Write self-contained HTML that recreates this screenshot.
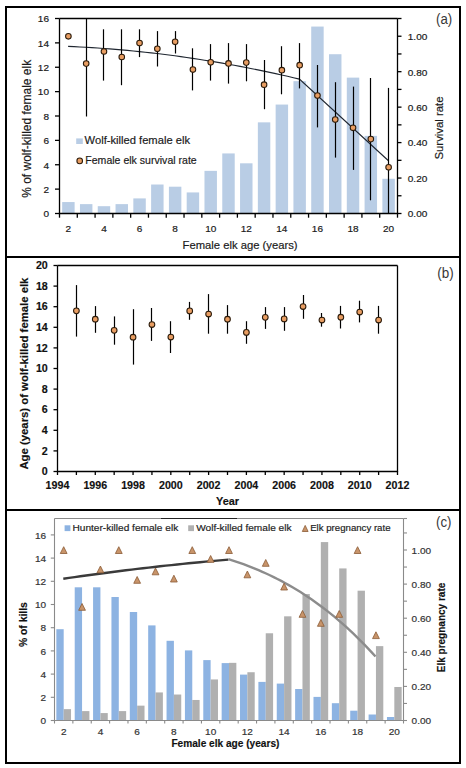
<!DOCTYPE html>
<html><head><meta charset="utf-8"><style>
html,body{margin:0;padding:0;background:#fff;}
body{width:466px;height:768px;overflow:hidden;}
svg{display:block;font-family:"Liberation Sans", sans-serif;}
</style></head><body>
<svg width="466" height="768" viewBox="0 0 466 768">
<rect width="466" height="768" fill="#fff"/>
<rect x="6" y="7" width="454" height="756" fill="none" stroke="#000" stroke-width="2"/>
<line x1="5.00" y1="257.00" x2="461.00" y2="257.00" stroke="#000" stroke-width="2"/>
<line x1="5.00" y1="510.00" x2="461.00" y2="510.00" stroke="#000" stroke-width="2"/>
<rect x="62.17" y="202.06" width="12.45" height="11.44" fill="#b9cde5"/>
<rect x="79.96" y="204.13" width="12.45" height="9.37" fill="#b9cde5"/>
<rect x="97.75" y="206.20" width="12.45" height="7.30" fill="#b9cde5"/>
<rect x="115.54" y="204.13" width="12.45" height="9.37" fill="#b9cde5"/>
<rect x="133.33" y="198.40" width="12.45" height="15.10" fill="#b9cde5"/>
<rect x="151.12" y="184.51" width="12.45" height="28.99" fill="#b9cde5"/>
<rect x="168.91" y="186.70" width="12.45" height="26.80" fill="#b9cde5"/>
<rect x="186.69" y="192.43" width="12.45" height="21.07" fill="#b9cde5"/>
<rect x="204.48" y="170.86" width="12.45" height="42.64" fill="#b9cde5"/>
<rect x="222.27" y="153.43" width="12.45" height="60.07" fill="#b9cde5"/>
<rect x="240.06" y="163.30" width="12.45" height="50.20" fill="#b9cde5"/>
<rect x="257.85" y="122.35" width="12.45" height="91.15" fill="#b9cde5"/>
<rect x="275.64" y="104.56" width="12.45" height="108.94" fill="#b9cde5"/>
<rect x="293.43" y="81.16" width="12.45" height="132.34" fill="#b9cde5"/>
<rect x="311.22" y="26.56" width="12.45" height="186.94" fill="#b9cde5"/>
<rect x="329.01" y="54.22" width="12.45" height="159.28" fill="#b9cde5"/>
<rect x="346.80" y="77.62" width="12.45" height="135.88" fill="#b9cde5"/>
<rect x="364.59" y="135.88" width="12.45" height="77.62" fill="#b9cde5"/>
<rect x="382.38" y="178.78" width="12.45" height="34.72" fill="#b9cde5"/>
<line x1="59.50" y1="18.50" x2="397.50" y2="18.50" stroke="#000" stroke-width="1.3"/>
<line x1="59.50" y1="18.50" x2="59.50" y2="213.50" stroke="#000" stroke-width="1.3"/>
<line x1="397.50" y1="18.50" x2="397.50" y2="213.50" stroke="#000" stroke-width="1.3"/>
<line x1="58.85" y1="213.50" x2="398.15" y2="213.50" stroke="#000" stroke-width="1.3"/>
<line x1="55.00" y1="213.50" x2="59.50" y2="213.50" stroke="#000" stroke-width="1.3"/>
<text transform="translate(49.00 217.30) scale(1.08 1)" font-size="9.3" text-anchor="end" font-weight="normal" fill="#1a1a1a" stroke="#1a1a1a" stroke-width="0.18">0</text>
<line x1="55.00" y1="189.12" x2="59.50" y2="189.12" stroke="#000" stroke-width="1.3"/>
<text transform="translate(49.00 192.93) scale(1.08 1)" font-size="9.3" text-anchor="end" font-weight="normal" fill="#1a1a1a" stroke="#1a1a1a" stroke-width="0.18">2</text>
<line x1="55.00" y1="164.75" x2="59.50" y2="164.75" stroke="#000" stroke-width="1.3"/>
<text transform="translate(49.00 168.55) scale(1.08 1)" font-size="9.3" text-anchor="end" font-weight="normal" fill="#1a1a1a" stroke="#1a1a1a" stroke-width="0.18">4</text>
<line x1="55.00" y1="140.38" x2="59.50" y2="140.38" stroke="#000" stroke-width="1.3"/>
<text transform="translate(49.00 144.18) scale(1.08 1)" font-size="9.3" text-anchor="end" font-weight="normal" fill="#1a1a1a" stroke="#1a1a1a" stroke-width="0.18">6</text>
<line x1="55.00" y1="116.00" x2="59.50" y2="116.00" stroke="#000" stroke-width="1.3"/>
<text transform="translate(49.00 119.80) scale(1.08 1)" font-size="9.3" text-anchor="end" font-weight="normal" fill="#1a1a1a" stroke="#1a1a1a" stroke-width="0.18">8</text>
<line x1="55.00" y1="91.62" x2="59.50" y2="91.62" stroke="#000" stroke-width="1.3"/>
<text transform="translate(49.00 95.42) scale(1.08 1)" font-size="9.3" text-anchor="end" font-weight="normal" fill="#1a1a1a" stroke="#1a1a1a" stroke-width="0.18">10</text>
<line x1="55.00" y1="67.25" x2="59.50" y2="67.25" stroke="#000" stroke-width="1.3"/>
<text transform="translate(49.00 71.05) scale(1.08 1)" font-size="9.3" text-anchor="end" font-weight="normal" fill="#1a1a1a" stroke="#1a1a1a" stroke-width="0.18">12</text>
<line x1="55.00" y1="42.88" x2="59.50" y2="42.88" stroke="#000" stroke-width="1.3"/>
<text transform="translate(49.00 46.67) scale(1.08 1)" font-size="9.3" text-anchor="end" font-weight="normal" fill="#1a1a1a" stroke="#1a1a1a" stroke-width="0.18">14</text>
<line x1="55.00" y1="18.50" x2="59.50" y2="18.50" stroke="#000" stroke-width="1.3"/>
<text transform="translate(49.00 22.30) scale(1.08 1)" font-size="9.3" text-anchor="end" font-weight="normal" fill="#1a1a1a" stroke="#1a1a1a" stroke-width="0.18">16</text>
<line x1="397.50" y1="213.50" x2="401.50" y2="213.50" stroke="#000" stroke-width="1.3"/>
<text transform="translate(407.80 217.40) scale(1.08 1)" font-size="9.3" text-anchor="start" font-weight="normal" fill="#1a1a1a" stroke="#1a1a1a" stroke-width="0.18">0.00</text>
<line x1="397.50" y1="195.77" x2="401.50" y2="195.77" stroke="#000" stroke-width="1.3"/>
<line x1="397.50" y1="178.05" x2="401.50" y2="178.05" stroke="#000" stroke-width="1.3"/>
<text transform="translate(407.80 181.95) scale(1.08 1)" font-size="9.3" text-anchor="start" font-weight="normal" fill="#1a1a1a" stroke="#1a1a1a" stroke-width="0.18">0.20</text>
<line x1="397.50" y1="160.32" x2="401.50" y2="160.32" stroke="#000" stroke-width="1.3"/>
<line x1="397.50" y1="142.59" x2="401.50" y2="142.59" stroke="#000" stroke-width="1.3"/>
<text transform="translate(407.80 146.49) scale(1.08 1)" font-size="9.3" text-anchor="start" font-weight="normal" fill="#1a1a1a" stroke="#1a1a1a" stroke-width="0.18">0.40</text>
<line x1="397.50" y1="124.86" x2="401.50" y2="124.86" stroke="#000" stroke-width="1.3"/>
<line x1="397.50" y1="107.14" x2="401.50" y2="107.14" stroke="#000" stroke-width="1.3"/>
<text transform="translate(407.80 111.04) scale(1.08 1)" font-size="9.3" text-anchor="start" font-weight="normal" fill="#1a1a1a" stroke="#1a1a1a" stroke-width="0.18">0.60</text>
<line x1="397.50" y1="89.41" x2="401.50" y2="89.41" stroke="#000" stroke-width="1.3"/>
<line x1="397.50" y1="71.68" x2="401.50" y2="71.68" stroke="#000" stroke-width="1.3"/>
<text transform="translate(407.80 75.58) scale(1.08 1)" font-size="9.3" text-anchor="start" font-weight="normal" fill="#1a1a1a" stroke="#1a1a1a" stroke-width="0.18">0.80</text>
<line x1="397.50" y1="53.95" x2="401.50" y2="53.95" stroke="#000" stroke-width="1.3"/>
<line x1="397.50" y1="36.23" x2="401.50" y2="36.23" stroke="#000" stroke-width="1.3"/>
<text transform="translate(407.80 40.13) scale(1.08 1)" font-size="9.3" text-anchor="start" font-weight="normal" fill="#1a1a1a" stroke="#1a1a1a" stroke-width="0.18">1.00</text>
<line x1="397.50" y1="18.50" x2="401.50" y2="18.50" stroke="#000" stroke-width="1.3"/>
<line x1="59.50" y1="213.50" x2="59.50" y2="217.70" stroke="#000" stroke-width="1.3"/>
<line x1="77.29" y1="213.50" x2="77.29" y2="217.70" stroke="#000" stroke-width="1.3"/>
<line x1="95.08" y1="213.50" x2="95.08" y2="217.70" stroke="#000" stroke-width="1.3"/>
<line x1="112.87" y1="213.50" x2="112.87" y2="217.70" stroke="#000" stroke-width="1.3"/>
<line x1="130.66" y1="213.50" x2="130.66" y2="217.70" stroke="#000" stroke-width="1.3"/>
<line x1="148.45" y1="213.50" x2="148.45" y2="217.70" stroke="#000" stroke-width="1.3"/>
<line x1="166.24" y1="213.50" x2="166.24" y2="217.70" stroke="#000" stroke-width="1.3"/>
<line x1="184.03" y1="213.50" x2="184.03" y2="217.70" stroke="#000" stroke-width="1.3"/>
<line x1="201.82" y1="213.50" x2="201.82" y2="217.70" stroke="#000" stroke-width="1.3"/>
<line x1="219.61" y1="213.50" x2="219.61" y2="217.70" stroke="#000" stroke-width="1.3"/>
<line x1="237.39" y1="213.50" x2="237.39" y2="217.70" stroke="#000" stroke-width="1.3"/>
<line x1="255.18" y1="213.50" x2="255.18" y2="217.70" stroke="#000" stroke-width="1.3"/>
<line x1="272.97" y1="213.50" x2="272.97" y2="217.70" stroke="#000" stroke-width="1.3"/>
<line x1="290.76" y1="213.50" x2="290.76" y2="217.70" stroke="#000" stroke-width="1.3"/>
<line x1="308.55" y1="213.50" x2="308.55" y2="217.70" stroke="#000" stroke-width="1.3"/>
<line x1="326.34" y1="213.50" x2="326.34" y2="217.70" stroke="#000" stroke-width="1.3"/>
<line x1="344.13" y1="213.50" x2="344.13" y2="217.70" stroke="#000" stroke-width="1.3"/>
<line x1="361.92" y1="213.50" x2="361.92" y2="217.70" stroke="#000" stroke-width="1.3"/>
<line x1="379.71" y1="213.50" x2="379.71" y2="217.70" stroke="#000" stroke-width="1.3"/>
<line x1="397.50" y1="213.50" x2="397.50" y2="217.70" stroke="#000" stroke-width="1.3"/>
<text transform="translate(68.39 231.80) scale(1.08 1)" font-size="9.3" text-anchor="middle" font-weight="normal" fill="#1a1a1a" stroke="#1a1a1a" stroke-width="0.18">2</text>
<text transform="translate(103.97 231.80) scale(1.08 1)" font-size="9.3" text-anchor="middle" font-weight="normal" fill="#1a1a1a" stroke="#1a1a1a" stroke-width="0.18">4</text>
<text transform="translate(139.55 231.80) scale(1.08 1)" font-size="9.3" text-anchor="middle" font-weight="normal" fill="#1a1a1a" stroke="#1a1a1a" stroke-width="0.18">6</text>
<text transform="translate(175.13 231.80) scale(1.08 1)" font-size="9.3" text-anchor="middle" font-weight="normal" fill="#1a1a1a" stroke="#1a1a1a" stroke-width="0.18">8</text>
<text transform="translate(210.71 231.80) scale(1.08 1)" font-size="9.3" text-anchor="middle" font-weight="normal" fill="#1a1a1a" stroke="#1a1a1a" stroke-width="0.18">10</text>
<text transform="translate(246.29 231.80) scale(1.08 1)" font-size="9.3" text-anchor="middle" font-weight="normal" fill="#1a1a1a" stroke="#1a1a1a" stroke-width="0.18">12</text>
<text transform="translate(281.87 231.80) scale(1.08 1)" font-size="9.3" text-anchor="middle" font-weight="normal" fill="#1a1a1a" stroke="#1a1a1a" stroke-width="0.18">14</text>
<text transform="translate(317.45 231.80) scale(1.08 1)" font-size="9.3" text-anchor="middle" font-weight="normal" fill="#1a1a1a" stroke="#1a1a1a" stroke-width="0.18">16</text>
<text transform="translate(353.03 231.80) scale(1.08 1)" font-size="9.3" text-anchor="middle" font-weight="normal" fill="#1a1a1a" stroke="#1a1a1a" stroke-width="0.18">18</text>
<text transform="translate(388.61 231.80) scale(1.08 1)" font-size="9.3" text-anchor="middle" font-weight="normal" fill="#1a1a1a" stroke="#1a1a1a" stroke-width="0.18">20</text>
<text transform="translate(182.60 249.00)" font-size="11.25" text-anchor="start" font-weight="normal" fill="#1a1a1a" textLength="115.00" lengthAdjust="spacingAndGlyphs" stroke="#1a1a1a" stroke-width="0.18">Female elk age (years)</text>
<text transform="translate(30.90 128.80) rotate(-90)" font-size="12" text-anchor="middle" font-weight="normal" fill="#1a1a1a" textLength="138.00" lengthAdjust="spacingAndGlyphs" stroke="#1a1a1a" stroke-width="0.18">% of wolf-killed female elk</text>
<text transform="translate(443.20 128.00) rotate(-90)" font-size="11.3" text-anchor="middle" font-weight="normal" fill="#1a1a1a" textLength="63.00" lengthAdjust="spacingAndGlyphs" stroke="#1a1a1a" stroke-width="0.18">Survival rate</text>
<text transform="translate(436.00 23.60)" font-size="14" text-anchor="start" font-weight="normal" fill="#383838" textLength="16.20" lengthAdjust="spacingAndGlyphs">(a)</text>
<polyline fill="none" stroke="#1f2630" stroke-width="1.1" points="68.10,46.37 74.03,46.64 79.96,46.94 85.89,47.27 91.82,47.63 97.75,48.02 103.68,48.44 109.62,48.89 115.55,49.37 121.48,49.88 127.41,50.42 133.34,50.99 139.27,51.59 145.20,52.22 151.13,52.88 157.06,53.57 162.99,54.29 168.92,55.04 174.85,55.82 180.78,56.63 186.72,57.47 192.65,58.34 198.58,59.24 204.51,60.17 210.44,61.13 216.37,62.11 222.30,63.13 228.23,64.18 234.16,65.26 240.09,66.37 246.02,67.51 251.95,68.68 257.88,69.88 263.82,71.10 269.75,72.36 275.68,73.65 281.61,74.97 287.54,76.32 293.47,77.70 299.40,79.10 388.20,160.50"/>
<line x1="86.50" y1="18.00" x2="86.50" y2="116.50" stroke="#000" stroke-width="1.2"/>
<line x1="103.50" y1="29.30" x2="103.50" y2="80.60" stroke="#000" stroke-width="1.2"/>
<line x1="121.50" y1="29.30" x2="121.50" y2="85.20" stroke="#000" stroke-width="1.2"/>
<line x1="139.50" y1="29.30" x2="139.50" y2="57.10" stroke="#000" stroke-width="1.2"/>
<line x1="157.50" y1="31.10" x2="157.50" y2="66.50" stroke="#000" stroke-width="1.2"/>
<line x1="175.50" y1="31.10" x2="175.50" y2="53.50" stroke="#000" stroke-width="1.2"/>
<line x1="192.50" y1="48.30" x2="192.50" y2="90.40" stroke="#000" stroke-width="1.2"/>
<line x1="210.50" y1="44.10" x2="210.50" y2="80.60" stroke="#000" stroke-width="1.2"/>
<line x1="228.50" y1="43.10" x2="228.50" y2="83.60" stroke="#000" stroke-width="1.2"/>
<line x1="246.50" y1="44.10" x2="246.50" y2="81.30" stroke="#000" stroke-width="1.2"/>
<line x1="264.50" y1="60.00" x2="264.50" y2="109.20" stroke="#000" stroke-width="1.2"/>
<line x1="281.50" y1="46.20" x2="281.50" y2="94.30" stroke="#000" stroke-width="1.2"/>
<line x1="299.50" y1="43.10" x2="299.50" y2="88.40" stroke="#000" stroke-width="1.2"/>
<line x1="317.50" y1="65.00" x2="317.50" y2="127.40" stroke="#000" stroke-width="1.2"/>
<line x1="335.50" y1="82.20" x2="335.50" y2="157.60" stroke="#000" stroke-width="1.2"/>
<line x1="353.50" y1="86.60" x2="353.50" y2="169.90" stroke="#000" stroke-width="1.2"/>
<line x1="370.50" y1="78.00" x2="370.50" y2="200.30" stroke="#000" stroke-width="1.2"/>
<line x1="388.50" y1="87.90" x2="388.50" y2="213.30" stroke="#000" stroke-width="1.2"/>
<circle cx="68.39" cy="36.30" r="2.8" fill="#e89d62" stroke="#2a1a0a" stroke-width="1.05"/>
<circle cx="86.18" cy="63.60" r="2.8" fill="#e89d62" stroke="#2a1a0a" stroke-width="1.05"/>
<circle cx="103.97" cy="51.50" r="2.8" fill="#e89d62" stroke="#2a1a0a" stroke-width="1.05"/>
<circle cx="121.76" cy="57.00" r="2.8" fill="#e89d62" stroke="#2a1a0a" stroke-width="1.05"/>
<circle cx="139.55" cy="43.10" r="2.8" fill="#e89d62" stroke="#2a1a0a" stroke-width="1.05"/>
<circle cx="157.34" cy="48.80" r="2.8" fill="#e89d62" stroke="#2a1a0a" stroke-width="1.05"/>
<circle cx="175.13" cy="41.80" r="2.8" fill="#e89d62" stroke="#2a1a0a" stroke-width="1.05"/>
<circle cx="192.92" cy="69.60" r="2.8" fill="#e89d62" stroke="#2a1a0a" stroke-width="1.05"/>
<circle cx="210.71" cy="62.30" r="2.8" fill="#e89d62" stroke="#2a1a0a" stroke-width="1.05"/>
<circle cx="228.50" cy="63.40" r="2.8" fill="#e89d62" stroke="#2a1a0a" stroke-width="1.05"/>
<circle cx="246.29" cy="62.60" r="2.8" fill="#e89d62" stroke="#2a1a0a" stroke-width="1.05"/>
<circle cx="264.08" cy="84.70" r="2.8" fill="#e89d62" stroke="#2a1a0a" stroke-width="1.05"/>
<circle cx="281.87" cy="70.20" r="2.8" fill="#e89d62" stroke="#2a1a0a" stroke-width="1.05"/>
<circle cx="299.66" cy="65.20" r="2.8" fill="#e89d62" stroke="#2a1a0a" stroke-width="1.05"/>
<circle cx="317.45" cy="95.60" r="2.8" fill="#e89d62" stroke="#2a1a0a" stroke-width="1.05"/>
<circle cx="335.24" cy="119.60" r="2.8" fill="#e89d62" stroke="#2a1a0a" stroke-width="1.05"/>
<circle cx="353.03" cy="127.80" r="2.8" fill="#e89d62" stroke="#2a1a0a" stroke-width="1.05"/>
<circle cx="370.82" cy="139.10" r="2.8" fill="#e89d62" stroke="#2a1a0a" stroke-width="1.05"/>
<circle cx="388.61" cy="167.30" r="2.8" fill="#e89d62" stroke="#2a1a0a" stroke-width="1.05"/>
<rect x="76.2" y="138.4" width="6.6" height="5.6" fill="#b9cde5"/>
<text transform="translate(84.60 143.90)" font-size="11.1" text-anchor="start" font-weight="normal" fill="#1a1a1a" textLength="105.40" lengthAdjust="spacingAndGlyphs" stroke="#1a1a1a" stroke-width="0.18">Wolf-killed female elk</text>
<circle cx="79.7" cy="160.9" r="2.8" fill="#e89d62" stroke="#2a1a0a" stroke-width="1.05"/>
<text transform="translate(85.30 163.80)" font-size="11.1" text-anchor="start" font-weight="normal" fill="#1a1a1a" textLength="111.40" lengthAdjust="spacingAndGlyphs" stroke="#1a1a1a" stroke-width="0.18">Female elk survival rate</text>
<line x1="57.50" y1="265.50" x2="397.50" y2="265.50" stroke="#000" stroke-width="1.3"/>
<line x1="397.50" y1="265.50" x2="397.50" y2="471.50" stroke="#000" stroke-width="1.3"/>
<line x1="57.50" y1="265.50" x2="57.50" y2="471.50" stroke="#000" stroke-width="1.3"/>
<line x1="56.90" y1="471.50" x2="398.10" y2="471.50" stroke="#000" stroke-width="1.3"/>
<line x1="53.50" y1="471.50" x2="57.50" y2="471.50" stroke="#000" stroke-width="1.3"/>
<text transform="translate(47.80 475.10) scale(1.07 1)" font-size="10" text-anchor="end" font-weight="bold" fill="#111" stroke="#111" stroke-width="0.15">0</text>
<line x1="53.50" y1="450.90" x2="57.50" y2="450.90" stroke="#000" stroke-width="1.3"/>
<text transform="translate(47.80 454.50) scale(1.07 1)" font-size="10" text-anchor="end" font-weight="bold" fill="#111" stroke="#111" stroke-width="0.15">2</text>
<line x1="53.50" y1="430.30" x2="57.50" y2="430.30" stroke="#000" stroke-width="1.3"/>
<text transform="translate(47.80 433.90) scale(1.07 1)" font-size="10" text-anchor="end" font-weight="bold" fill="#111" stroke="#111" stroke-width="0.15">4</text>
<line x1="53.50" y1="409.70" x2="57.50" y2="409.70" stroke="#000" stroke-width="1.3"/>
<text transform="translate(47.80 413.30) scale(1.07 1)" font-size="10" text-anchor="end" font-weight="bold" fill="#111" stroke="#111" stroke-width="0.15">6</text>
<line x1="53.50" y1="389.10" x2="57.50" y2="389.10" stroke="#000" stroke-width="1.3"/>
<text transform="translate(47.80 392.70) scale(1.07 1)" font-size="10" text-anchor="end" font-weight="bold" fill="#111" stroke="#111" stroke-width="0.15">8</text>
<line x1="53.50" y1="368.50" x2="57.50" y2="368.50" stroke="#000" stroke-width="1.3"/>
<text transform="translate(47.80 372.10) scale(1.07 1)" font-size="10" text-anchor="end" font-weight="bold" fill="#111" stroke="#111" stroke-width="0.15">10</text>
<line x1="53.50" y1="347.90" x2="57.50" y2="347.90" stroke="#000" stroke-width="1.3"/>
<text transform="translate(47.80 351.50) scale(1.07 1)" font-size="10" text-anchor="end" font-weight="bold" fill="#111" stroke="#111" stroke-width="0.15">12</text>
<line x1="53.50" y1="327.30" x2="57.50" y2="327.30" stroke="#000" stroke-width="1.3"/>
<text transform="translate(47.80 330.90) scale(1.07 1)" font-size="10" text-anchor="end" font-weight="bold" fill="#111" stroke="#111" stroke-width="0.15">14</text>
<line x1="53.50" y1="306.70" x2="57.50" y2="306.70" stroke="#000" stroke-width="1.3"/>
<text transform="translate(47.80 310.30) scale(1.07 1)" font-size="10" text-anchor="end" font-weight="bold" fill="#111" stroke="#111" stroke-width="0.15">16</text>
<line x1="53.50" y1="286.10" x2="57.50" y2="286.10" stroke="#000" stroke-width="1.3"/>
<text transform="translate(47.80 289.70) scale(1.07 1)" font-size="10" text-anchor="end" font-weight="bold" fill="#111" stroke="#111" stroke-width="0.15">18</text>
<line x1="53.50" y1="265.50" x2="57.50" y2="265.50" stroke="#000" stroke-width="1.3"/>
<text transform="translate(47.80 269.10) scale(1.07 1)" font-size="10" text-anchor="end" font-weight="bold" fill="#111" stroke="#111" stroke-width="0.15">20</text>
<line x1="57.50" y1="471.50" x2="57.50" y2="475.00" stroke="#000" stroke-width="1.3"/>
<text transform="translate(57.50 489.00) scale(1.07 1)" font-size="10" text-anchor="middle" font-weight="bold" fill="#111" stroke="#111" stroke-width="0.15">1994</text>
<line x1="76.39" y1="471.50" x2="76.39" y2="475.00" stroke="#000" stroke-width="1.3"/>
<line x1="95.28" y1="471.50" x2="95.28" y2="475.00" stroke="#000" stroke-width="1.3"/>
<text transform="translate(95.28 489.00) scale(1.07 1)" font-size="10" text-anchor="middle" font-weight="bold" fill="#111" stroke="#111" stroke-width="0.15">1996</text>
<line x1="114.17" y1="471.50" x2="114.17" y2="475.00" stroke="#000" stroke-width="1.3"/>
<line x1="133.06" y1="471.50" x2="133.06" y2="475.00" stroke="#000" stroke-width="1.3"/>
<text transform="translate(133.06 489.00) scale(1.07 1)" font-size="10" text-anchor="middle" font-weight="bold" fill="#111" stroke="#111" stroke-width="0.15">1998</text>
<line x1="151.94" y1="471.50" x2="151.94" y2="475.00" stroke="#000" stroke-width="1.3"/>
<line x1="170.83" y1="471.50" x2="170.83" y2="475.00" stroke="#000" stroke-width="1.3"/>
<text transform="translate(170.83 489.00) scale(1.07 1)" font-size="10" text-anchor="middle" font-weight="bold" fill="#111" stroke="#111" stroke-width="0.15">2000</text>
<line x1="189.72" y1="471.50" x2="189.72" y2="475.00" stroke="#000" stroke-width="1.3"/>
<line x1="208.61" y1="471.50" x2="208.61" y2="475.00" stroke="#000" stroke-width="1.3"/>
<text transform="translate(208.61 489.00) scale(1.07 1)" font-size="10" text-anchor="middle" font-weight="bold" fill="#111" stroke="#111" stroke-width="0.15">2002</text>
<line x1="227.50" y1="471.50" x2="227.50" y2="475.00" stroke="#000" stroke-width="1.3"/>
<line x1="246.39" y1="471.50" x2="246.39" y2="475.00" stroke="#000" stroke-width="1.3"/>
<text transform="translate(246.39 489.00) scale(1.07 1)" font-size="10" text-anchor="middle" font-weight="bold" fill="#111" stroke="#111" stroke-width="0.15">2004</text>
<line x1="265.28" y1="471.50" x2="265.28" y2="475.00" stroke="#000" stroke-width="1.3"/>
<line x1="284.17" y1="471.50" x2="284.17" y2="475.00" stroke="#000" stroke-width="1.3"/>
<text transform="translate(284.17 489.00) scale(1.07 1)" font-size="10" text-anchor="middle" font-weight="bold" fill="#111" stroke="#111" stroke-width="0.15">2006</text>
<line x1="303.06" y1="471.50" x2="303.06" y2="475.00" stroke="#000" stroke-width="1.3"/>
<line x1="321.94" y1="471.50" x2="321.94" y2="475.00" stroke="#000" stroke-width="1.3"/>
<text transform="translate(321.94 489.00) scale(1.07 1)" font-size="10" text-anchor="middle" font-weight="bold" fill="#111" stroke="#111" stroke-width="0.15">2008</text>
<line x1="340.83" y1="471.50" x2="340.83" y2="475.00" stroke="#000" stroke-width="1.3"/>
<line x1="359.72" y1="471.50" x2="359.72" y2="475.00" stroke="#000" stroke-width="1.3"/>
<text transform="translate(359.72 489.00) scale(1.07 1)" font-size="10" text-anchor="middle" font-weight="bold" fill="#111" stroke="#111" stroke-width="0.15">2010</text>
<line x1="378.61" y1="471.50" x2="378.61" y2="475.00" stroke="#000" stroke-width="1.3"/>
<line x1="397.50" y1="471.50" x2="397.50" y2="475.00" stroke="#000" stroke-width="1.3"/>
<text transform="translate(397.50 489.00) scale(1.07 1)" font-size="10" text-anchor="middle" font-weight="bold" fill="#111" stroke="#111" stroke-width="0.15">2012</text>
<text transform="translate(227.50 505.00)" font-size="10.9" text-anchor="middle" font-weight="bold" fill="#111" stroke="#111" stroke-width="0.15">Year</text>
<text transform="translate(27.60 373.60) rotate(-90)" font-size="11.1" text-anchor="middle" font-weight="bold" fill="#111" textLength="192.00" lengthAdjust="spacingAndGlyphs" stroke="#111" stroke-width="0.15">Age (years) of wolf-killed  female elk</text>
<text transform="translate(437.30 277.60)" font-size="14" text-anchor="start" font-weight="normal" fill="#383838" textLength="16.40" lengthAdjust="spacingAndGlyphs">(b)</text>
<line x1="76.50" y1="285.10" x2="76.50" y2="336.60" stroke="#000" stroke-width="1.2"/>
<line x1="95.50" y1="306.10" x2="95.50" y2="332.80" stroke="#000" stroke-width="1.2"/>
<line x1="114.50" y1="316.40" x2="114.50" y2="344.70" stroke="#000" stroke-width="1.2"/>
<line x1="133.50" y1="309.20" x2="133.50" y2="364.60" stroke="#000" stroke-width="1.2"/>
<line x1="151.50" y1="308.00" x2="151.50" y2="340.90" stroke="#000" stroke-width="1.2"/>
<line x1="170.50" y1="321.20" x2="170.50" y2="353.00" stroke="#000" stroke-width="1.2"/>
<line x1="189.50" y1="301.90" x2="189.50" y2="319.80" stroke="#000" stroke-width="1.2"/>
<line x1="208.50" y1="294.10" x2="208.50" y2="333.70" stroke="#000" stroke-width="1.2"/>
<line x1="227.50" y1="305.10" x2="227.50" y2="333.70" stroke="#000" stroke-width="1.2"/>
<line x1="246.50" y1="321.20" x2="246.50" y2="343.80" stroke="#000" stroke-width="1.2"/>
<line x1="265.50" y1="307.10" x2="265.50" y2="328.90" stroke="#000" stroke-width="1.2"/>
<line x1="284.50" y1="307.10" x2="284.50" y2="330.80" stroke="#000" stroke-width="1.2"/>
<line x1="303.50" y1="295.00" x2="303.50" y2="318.80" stroke="#000" stroke-width="1.2"/>
<line x1="321.50" y1="313.00" x2="321.50" y2="326.70" stroke="#000" stroke-width="1.2"/>
<line x1="340.50" y1="305.90" x2="340.50" y2="328.50" stroke="#000" stroke-width="1.2"/>
<line x1="359.50" y1="300.70" x2="359.50" y2="322.40" stroke="#000" stroke-width="1.2"/>
<line x1="378.50" y1="305.90" x2="378.50" y2="333.70" stroke="#000" stroke-width="1.2"/>
<circle cx="76.39" cy="310.80" r="2.85" fill="#e89d62" stroke="#2a1a0a" stroke-width="1.05"/>
<circle cx="95.28" cy="319.20" r="2.85" fill="#e89d62" stroke="#2a1a0a" stroke-width="1.05"/>
<circle cx="114.17" cy="330.30" r="2.85" fill="#e89d62" stroke="#2a1a0a" stroke-width="1.05"/>
<circle cx="133.06" cy="337.20" r="2.85" fill="#e89d62" stroke="#2a1a0a" stroke-width="1.05"/>
<circle cx="151.94" cy="324.50" r="2.85" fill="#e89d62" stroke="#2a1a0a" stroke-width="1.05"/>
<circle cx="170.83" cy="337.00" r="2.85" fill="#e89d62" stroke="#2a1a0a" stroke-width="1.05"/>
<circle cx="189.72" cy="310.90" r="2.85" fill="#e89d62" stroke="#2a1a0a" stroke-width="1.05"/>
<circle cx="208.61" cy="314.00" r="2.85" fill="#e89d62" stroke="#2a1a0a" stroke-width="1.05"/>
<circle cx="227.50" cy="319.20" r="2.85" fill="#e89d62" stroke="#2a1a0a" stroke-width="1.05"/>
<circle cx="246.39" cy="332.40" r="2.85" fill="#e89d62" stroke="#2a1a0a" stroke-width="1.05"/>
<circle cx="265.28" cy="317.30" r="2.85" fill="#e89d62" stroke="#2a1a0a" stroke-width="1.05"/>
<circle cx="284.17" cy="318.90" r="2.85" fill="#e89d62" stroke="#2a1a0a" stroke-width="1.05"/>
<circle cx="303.06" cy="306.50" r="2.85" fill="#e89d62" stroke="#2a1a0a" stroke-width="1.05"/>
<circle cx="321.94" cy="320.00" r="2.85" fill="#e89d62" stroke="#2a1a0a" stroke-width="1.05"/>
<circle cx="340.83" cy="317.20" r="2.85" fill="#e89d62" stroke="#2a1a0a" stroke-width="1.05"/>
<circle cx="359.72" cy="312.00" r="2.85" fill="#e89d62" stroke="#2a1a0a" stroke-width="1.05"/>
<circle cx="378.61" cy="320.00" r="2.85" fill="#e89d62" stroke="#2a1a0a" stroke-width="1.05"/>
<rect x="56.34" y="629.20" width="7.35" height="91.30" fill="#8db3e2"/>
<rect x="63.68" y="709.13" width="7.35" height="11.37" fill="#b0b0b0"/>
<rect x="74.71" y="587.30" width="7.35" height="133.20" fill="#8db3e2"/>
<rect x="82.05" y="711.10" width="7.35" height="9.40" fill="#b0b0b0"/>
<rect x="93.07" y="587.30" width="7.35" height="133.20" fill="#8db3e2"/>
<rect x="100.42" y="713.08" width="7.35" height="7.42" fill="#b0b0b0"/>
<rect x="111.44" y="597.00" width="7.35" height="123.50" fill="#8db3e2"/>
<rect x="118.79" y="711.10" width="7.35" height="9.40" fill="#b0b0b0"/>
<rect x="129.81" y="612.00" width="7.35" height="108.50" fill="#8db3e2"/>
<rect x="137.16" y="705.65" width="7.35" height="14.85" fill="#b0b0b0"/>
<rect x="148.18" y="625.40" width="7.35" height="95.10" fill="#8db3e2"/>
<rect x="155.53" y="692.43" width="7.35" height="28.07" fill="#b0b0b0"/>
<rect x="166.55" y="640.80" width="7.35" height="79.70" fill="#8db3e2"/>
<rect x="173.89" y="694.52" width="7.35" height="25.98" fill="#b0b0b0"/>
<rect x="184.92" y="650.40" width="7.35" height="70.10" fill="#8db3e2"/>
<rect x="192.26" y="699.97" width="7.35" height="20.53" fill="#b0b0b0"/>
<rect x="203.28" y="660.10" width="7.35" height="60.40" fill="#8db3e2"/>
<rect x="210.63" y="679.44" width="7.35" height="41.06" fill="#b0b0b0"/>
<rect x="221.65" y="663.10" width="7.35" height="57.40" fill="#8db3e2"/>
<rect x="229.00" y="662.85" width="7.35" height="57.65" fill="#b0b0b0"/>
<rect x="240.02" y="674.60" width="7.35" height="45.90" fill="#8db3e2"/>
<rect x="247.37" y="672.24" width="7.35" height="48.26" fill="#b0b0b0"/>
<rect x="258.39" y="681.90" width="7.35" height="38.60" fill="#8db3e2"/>
<rect x="265.74" y="633.27" width="7.35" height="87.23" fill="#b0b0b0"/>
<rect x="276.76" y="683.60" width="7.35" height="36.90" fill="#8db3e2"/>
<rect x="284.11" y="616.33" width="7.35" height="104.17" fill="#b0b0b0"/>
<rect x="295.13" y="689.00" width="7.35" height="31.50" fill="#8db3e2"/>
<rect x="302.47" y="594.06" width="7.35" height="126.44" fill="#b0b0b0"/>
<rect x="313.49" y="696.90" width="7.35" height="23.60" fill="#8db3e2"/>
<rect x="320.84" y="542.09" width="7.35" height="178.41" fill="#b0b0b0"/>
<rect x="331.86" y="703.20" width="7.35" height="17.30" fill="#8db3e2"/>
<rect x="339.21" y="568.42" width="7.35" height="152.08" fill="#b0b0b0"/>
<rect x="350.23" y="710.70" width="7.35" height="9.80" fill="#8db3e2"/>
<rect x="357.58" y="590.70" width="7.35" height="129.80" fill="#b0b0b0"/>
<rect x="368.60" y="714.50" width="7.35" height="6.00" fill="#8db3e2"/>
<rect x="375.95" y="646.14" width="7.35" height="74.36" fill="#b0b0b0"/>
<rect x="386.97" y="717.00" width="7.35" height="3.50" fill="#8db3e2"/>
<rect x="394.32" y="686.98" width="7.35" height="33.52" fill="#b0b0b0"/>
<line x1="54.50" y1="518.50" x2="403.50" y2="518.50" stroke="#8a8a8a" stroke-width="1.1"/>
<line x1="161.00" y1="518.50" x2="237.00" y2="518.50" stroke="#222" stroke-width="1.2"/>
<line x1="54.50" y1="518.50" x2="54.50" y2="720.50" stroke="#8a8a8a" stroke-width="1.1"/>
<line x1="403.50" y1="518.50" x2="403.50" y2="720.50" stroke="#8a8a8a" stroke-width="1.1"/>
<line x1="53.90" y1="720.50" x2="404.10" y2="720.50" stroke="#8a8a8a" stroke-width="1.1"/>
<line x1="50.80" y1="720.50" x2="54.50" y2="720.50" stroke="#8a8a8a" stroke-width="1.1"/>
<text transform="translate(46.10 724.20) scale(1.08 1)" font-size="9.3" text-anchor="end" font-weight="normal" fill="#333" stroke="#333" stroke-width="0.18">0</text>
<line x1="50.80" y1="697.30" x2="54.50" y2="697.30" stroke="#8a8a8a" stroke-width="1.1"/>
<text transform="translate(46.10 701.00) scale(1.08 1)" font-size="9.3" text-anchor="end" font-weight="normal" fill="#333" stroke="#333" stroke-width="0.18">2</text>
<line x1="50.80" y1="674.10" x2="54.50" y2="674.10" stroke="#8a8a8a" stroke-width="1.1"/>
<text transform="translate(46.10 677.80) scale(1.08 1)" font-size="9.3" text-anchor="end" font-weight="normal" fill="#333" stroke="#333" stroke-width="0.18">4</text>
<line x1="50.80" y1="650.90" x2="54.50" y2="650.90" stroke="#8a8a8a" stroke-width="1.1"/>
<text transform="translate(46.10 654.60) scale(1.08 1)" font-size="9.3" text-anchor="end" font-weight="normal" fill="#333" stroke="#333" stroke-width="0.18">6</text>
<line x1="50.80" y1="627.70" x2="54.50" y2="627.70" stroke="#8a8a8a" stroke-width="1.1"/>
<text transform="translate(46.10 631.40) scale(1.08 1)" font-size="9.3" text-anchor="end" font-weight="normal" fill="#333" stroke="#333" stroke-width="0.18">8</text>
<line x1="50.80" y1="604.50" x2="54.50" y2="604.50" stroke="#8a8a8a" stroke-width="1.1"/>
<text transform="translate(46.10 608.20) scale(1.08 1)" font-size="9.3" text-anchor="end" font-weight="normal" fill="#333" stroke="#333" stroke-width="0.18">10</text>
<line x1="50.80" y1="581.30" x2="54.50" y2="581.30" stroke="#8a8a8a" stroke-width="1.1"/>
<text transform="translate(46.10 585.00) scale(1.08 1)" font-size="9.3" text-anchor="end" font-weight="normal" fill="#333" stroke="#333" stroke-width="0.18">12</text>
<line x1="50.80" y1="558.10" x2="54.50" y2="558.10" stroke="#8a8a8a" stroke-width="1.1"/>
<text transform="translate(46.10 561.80) scale(1.08 1)" font-size="9.3" text-anchor="end" font-weight="normal" fill="#333" stroke="#333" stroke-width="0.18">14</text>
<line x1="50.80" y1="534.90" x2="54.50" y2="534.90" stroke="#8a8a8a" stroke-width="1.1"/>
<text transform="translate(46.10 538.60) scale(1.08 1)" font-size="9.3" text-anchor="end" font-weight="normal" fill="#333" stroke="#333" stroke-width="0.18">16</text>
<line x1="403.50" y1="720.50" x2="407.00" y2="720.50" stroke="#8a8a8a" stroke-width="1.1"/>
<text transform="translate(411.60 724.20) scale(1.08 1)" font-size="9.3" text-anchor="start" font-weight="normal" fill="#333" stroke="#333" stroke-width="0.18">0.00</text>
<line x1="403.50" y1="703.45" x2="407.00" y2="703.45" stroke="#8a8a8a" stroke-width="1.1"/>
<line x1="403.50" y1="686.40" x2="407.00" y2="686.40" stroke="#8a8a8a" stroke-width="1.1"/>
<text transform="translate(411.60 690.10) scale(1.08 1)" font-size="9.3" text-anchor="start" font-weight="normal" fill="#333" stroke="#333" stroke-width="0.18">0.20</text>
<line x1="403.50" y1="669.35" x2="407.00" y2="669.35" stroke="#8a8a8a" stroke-width="1.1"/>
<line x1="403.50" y1="652.30" x2="407.00" y2="652.30" stroke="#8a8a8a" stroke-width="1.1"/>
<text transform="translate(411.60 656.00) scale(1.08 1)" font-size="9.3" text-anchor="start" font-weight="normal" fill="#333" stroke="#333" stroke-width="0.18">0.40</text>
<line x1="403.50" y1="635.25" x2="407.00" y2="635.25" stroke="#8a8a8a" stroke-width="1.1"/>
<line x1="403.50" y1="618.20" x2="407.00" y2="618.20" stroke="#8a8a8a" stroke-width="1.1"/>
<text transform="translate(411.60 621.90) scale(1.08 1)" font-size="9.3" text-anchor="start" font-weight="normal" fill="#333" stroke="#333" stroke-width="0.18">0.60</text>
<line x1="403.50" y1="601.15" x2="407.00" y2="601.15" stroke="#8a8a8a" stroke-width="1.1"/>
<line x1="403.50" y1="584.10" x2="407.00" y2="584.10" stroke="#8a8a8a" stroke-width="1.1"/>
<text transform="translate(411.60 587.80) scale(1.08 1)" font-size="9.3" text-anchor="start" font-weight="normal" fill="#333" stroke="#333" stroke-width="0.18">0.80</text>
<line x1="403.50" y1="567.05" x2="407.00" y2="567.05" stroke="#8a8a8a" stroke-width="1.1"/>
<line x1="403.50" y1="550.00" x2="407.00" y2="550.00" stroke="#8a8a8a" stroke-width="1.1"/>
<text transform="translate(411.60 553.70) scale(1.08 1)" font-size="9.3" text-anchor="start" font-weight="normal" fill="#333" stroke="#333" stroke-width="0.18">1.00</text>
<line x1="403.50" y1="532.95" x2="407.00" y2="532.95" stroke="#8a8a8a" stroke-width="1.1"/>
<line x1="403.50" y1="518.50" x2="407.00" y2="518.50" stroke="#8a8a8a" stroke-width="1.1"/>
<line x1="54.50" y1="720.50" x2="54.50" y2="723.50" stroke="#8a8a8a" stroke-width="1.1"/>
<line x1="72.87" y1="720.50" x2="72.87" y2="723.50" stroke="#8a8a8a" stroke-width="1.1"/>
<line x1="91.24" y1="720.50" x2="91.24" y2="723.50" stroke="#8a8a8a" stroke-width="1.1"/>
<line x1="109.61" y1="720.50" x2="109.61" y2="723.50" stroke="#8a8a8a" stroke-width="1.1"/>
<line x1="127.97" y1="720.50" x2="127.97" y2="723.50" stroke="#8a8a8a" stroke-width="1.1"/>
<line x1="146.34" y1="720.50" x2="146.34" y2="723.50" stroke="#8a8a8a" stroke-width="1.1"/>
<line x1="164.71" y1="720.50" x2="164.71" y2="723.50" stroke="#8a8a8a" stroke-width="1.1"/>
<line x1="183.08" y1="720.50" x2="183.08" y2="723.50" stroke="#8a8a8a" stroke-width="1.1"/>
<line x1="201.45" y1="720.50" x2="201.45" y2="723.50" stroke="#8a8a8a" stroke-width="1.1"/>
<line x1="219.82" y1="720.50" x2="219.82" y2="723.50" stroke="#8a8a8a" stroke-width="1.1"/>
<line x1="238.18" y1="720.50" x2="238.18" y2="723.50" stroke="#8a8a8a" stroke-width="1.1"/>
<line x1="256.55" y1="720.50" x2="256.55" y2="723.50" stroke="#8a8a8a" stroke-width="1.1"/>
<line x1="274.92" y1="720.50" x2="274.92" y2="723.50" stroke="#8a8a8a" stroke-width="1.1"/>
<line x1="293.29" y1="720.50" x2="293.29" y2="723.50" stroke="#8a8a8a" stroke-width="1.1"/>
<line x1="311.66" y1="720.50" x2="311.66" y2="723.50" stroke="#8a8a8a" stroke-width="1.1"/>
<line x1="330.03" y1="720.50" x2="330.03" y2="723.50" stroke="#8a8a8a" stroke-width="1.1"/>
<line x1="348.39" y1="720.50" x2="348.39" y2="723.50" stroke="#8a8a8a" stroke-width="1.1"/>
<line x1="366.76" y1="720.50" x2="366.76" y2="723.50" stroke="#8a8a8a" stroke-width="1.1"/>
<line x1="385.13" y1="720.50" x2="385.13" y2="723.50" stroke="#8a8a8a" stroke-width="1.1"/>
<line x1="403.50" y1="720.50" x2="403.50" y2="723.50" stroke="#8a8a8a" stroke-width="1.1"/>
<text transform="translate(63.68 735.20) scale(1.08 1)" font-size="9.3" text-anchor="middle" font-weight="normal" fill="#333" stroke="#333" stroke-width="0.18">2</text>
<text transform="translate(100.42 735.20) scale(1.08 1)" font-size="9.3" text-anchor="middle" font-weight="normal" fill="#333" stroke="#333" stroke-width="0.18">4</text>
<text transform="translate(137.16 735.20) scale(1.08 1)" font-size="9.3" text-anchor="middle" font-weight="normal" fill="#333" stroke="#333" stroke-width="0.18">6</text>
<text transform="translate(173.89 735.20) scale(1.08 1)" font-size="9.3" text-anchor="middle" font-weight="normal" fill="#333" stroke="#333" stroke-width="0.18">8</text>
<text transform="translate(210.63 735.20) scale(1.08 1)" font-size="9.3" text-anchor="middle" font-weight="normal" fill="#333" stroke="#333" stroke-width="0.18">10</text>
<text transform="translate(247.37 735.20) scale(1.08 1)" font-size="9.3" text-anchor="middle" font-weight="normal" fill="#333" stroke="#333" stroke-width="0.18">12</text>
<text transform="translate(284.11 735.20) scale(1.08 1)" font-size="9.3" text-anchor="middle" font-weight="normal" fill="#333" stroke="#333" stroke-width="0.18">14</text>
<text transform="translate(320.84 735.20) scale(1.08 1)" font-size="9.3" text-anchor="middle" font-weight="normal" fill="#333" stroke="#333" stroke-width="0.18">16</text>
<text transform="translate(357.58 735.20) scale(1.08 1)" font-size="9.3" text-anchor="middle" font-weight="normal" fill="#333" stroke="#333" stroke-width="0.18">18</text>
<text transform="translate(394.32 735.20) scale(1.08 1)" font-size="9.3" text-anchor="middle" font-weight="normal" fill="#333" stroke="#333" stroke-width="0.18">20</text>
<text transform="translate(171.40 746.80)" font-size="10.1" text-anchor="start" font-weight="bold" fill="#111" textLength="108.00" lengthAdjust="spacingAndGlyphs" stroke="#111" stroke-width="0.15">Female elk age (years)</text>
<text transform="translate(27.30 624.60) rotate(-90)" font-size="10.4" text-anchor="middle" font-weight="bold" fill="#111" textLength="45.00" lengthAdjust="spacingAndGlyphs" stroke="#111" stroke-width="0.15">% of kills</text>
<text transform="translate(444.50 627.50) rotate(-90)" font-size="10" text-anchor="middle" font-weight="bold" fill="#111" textLength="89.60" lengthAdjust="spacingAndGlyphs" stroke="#111" stroke-width="0.15">Elk pregnancy rate</text>
<text transform="translate(436.00 527.00)" font-size="14" text-anchor="start" font-weight="normal" fill="#383838" textLength="15.40" lengthAdjust="spacingAndGlyphs">(c)</text>
<polyline fill="none" stroke="#3a3a3a" stroke-width="2.4" points="63.30,578.70 68.99,577.88 74.69,577.07 80.38,576.27 86.07,575.48 91.77,574.70 97.46,573.94 103.15,573.19 108.84,572.45 114.54,571.72 120.23,571.00 125.92,570.29 131.62,569.60 137.31,568.92 143.00,568.25 148.70,567.59 154.39,566.94 160.08,566.31 165.78,565.68 171.47,565.07 177.16,564.47 182.86,563.88 188.55,563.31 194.24,562.74 199.93,562.19 205.63,561.65 211.32,561.12 217.01,560.60 222.71,560.09 228.40,559.60"/>
<polyline fill="none" stroke="#8c8c8c" stroke-width="2.4" points="228.40,559.20 232.17,560.38 235.94,561.61 239.72,562.90 243.49,564.24 247.26,565.63 251.03,567.09 254.80,568.60 258.57,570.17 262.35,571.80 266.12,573.50 269.89,575.26 273.66,577.08 277.43,578.98 281.21,580.94 284.98,582.97 288.75,585.08 292.52,587.25 296.29,589.50 300.06,591.83 303.84,594.24 307.61,596.72 311.38,599.28 315.15,601.93 318.92,604.66 322.69,607.47 326.47,610.37 330.24,613.35 334.01,616.43 337.78,619.60 341.55,622.85 345.33,626.20 349.10,629.65 352.87,633.19 356.64,636.83 360.41,640.57 364.18,644.40 367.96,648.34 371.73,652.39 375.50,656.54"/>
<polygon points="60.28,553.50 67.08,553.50 63.68,546.70" fill="#c8946a" stroke="#8a5a35" stroke-width="0.8"/>
<polygon points="78.65,610.30 85.45,610.30 82.05,603.50" fill="#c8946a" stroke="#8a5a35" stroke-width="0.8"/>
<polygon points="97.02,572.80 103.82,572.80 100.42,566.00" fill="#c8946a" stroke="#8a5a35" stroke-width="0.8"/>
<polygon points="115.39,553.50 122.19,553.50 118.79,546.70" fill="#c8946a" stroke="#8a5a35" stroke-width="0.8"/>
<polygon points="133.76,583.30 140.56,583.30 137.16,576.50" fill="#c8946a" stroke="#8a5a35" stroke-width="0.8"/>
<polygon points="152.13,574.80 158.93,574.80 155.53,568.00" fill="#c8946a" stroke="#8a5a35" stroke-width="0.8"/>
<polygon points="170.49,582.00 177.29,582.00 173.89,575.20" fill="#c8946a" stroke="#8a5a35" stroke-width="0.8"/>
<polygon points="188.86,553.50 195.66,553.50 192.26,546.70" fill="#c8946a" stroke="#8a5a35" stroke-width="0.8"/>
<polygon points="207.23,562.30 214.03,562.30 210.63,555.50" fill="#c8946a" stroke="#8a5a35" stroke-width="0.8"/>
<polygon points="225.60,553.50 232.40,553.50 229.00,546.70" fill="#c8946a" stroke="#8a5a35" stroke-width="0.8"/>
<polygon points="243.97,577.80 250.77,577.80 247.37,571.00" fill="#c8946a" stroke="#8a5a35" stroke-width="0.8"/>
<polygon points="262.34,566.30 269.14,566.30 265.74,559.50" fill="#c8946a" stroke="#8a5a35" stroke-width="0.8"/>
<polygon points="280.71,590.00 287.51,590.00 284.11,583.20" fill="#c8946a" stroke="#8a5a35" stroke-width="0.8"/>
<polygon points="299.07,617.30 305.87,617.30 302.47,610.50" fill="#c8946a" stroke="#8a5a35" stroke-width="0.8"/>
<polygon points="317.44,626.30 324.24,626.30 320.84,619.50" fill="#c8946a" stroke="#8a5a35" stroke-width="0.8"/>
<polygon points="335.81,617.30 342.61,617.30 339.21,610.50" fill="#c8946a" stroke="#8a5a35" stroke-width="0.8"/>
<polygon points="354.18,553.50 360.98,553.50 357.58,546.70" fill="#c8946a" stroke="#8a5a35" stroke-width="0.8"/>
<polygon points="372.55,638.60 379.35,638.60 375.95,631.80" fill="#c8946a" stroke="#8a5a35" stroke-width="0.8"/>
<rect x="64.6" y="525.3" width="5.8" height="5.8" fill="#8db3e2"/>
<text transform="translate(72.50 531.00)" font-size="9.5" text-anchor="start" font-weight="normal" fill="#222" textLength="105.70" lengthAdjust="spacingAndGlyphs" stroke="#222" stroke-width="0.18">Hunter-killed female elk</text>
<rect x="188.2" y="525.3" width="5.8" height="5.8" fill="#b0b0b0"/>
<text transform="translate(196.20 531.00)" font-size="9.5" text-anchor="start" font-weight="normal" fill="#222" textLength="95.30" lengthAdjust="spacingAndGlyphs" stroke="#222" stroke-width="0.18">Wolf-killed female elk</text>
<polygon points="302.30,531.50 308.10,531.50 305.20,525.40" fill="#c8946a" stroke="#8a5a35" stroke-width="0.8"/>
<text transform="translate(310.20 531.00)" font-size="9.5" text-anchor="start" font-weight="normal" fill="#222" textLength="80.30" lengthAdjust="spacingAndGlyphs" stroke="#222" stroke-width="0.18">Elk pregnancy rate</text>
</svg></body></html>
